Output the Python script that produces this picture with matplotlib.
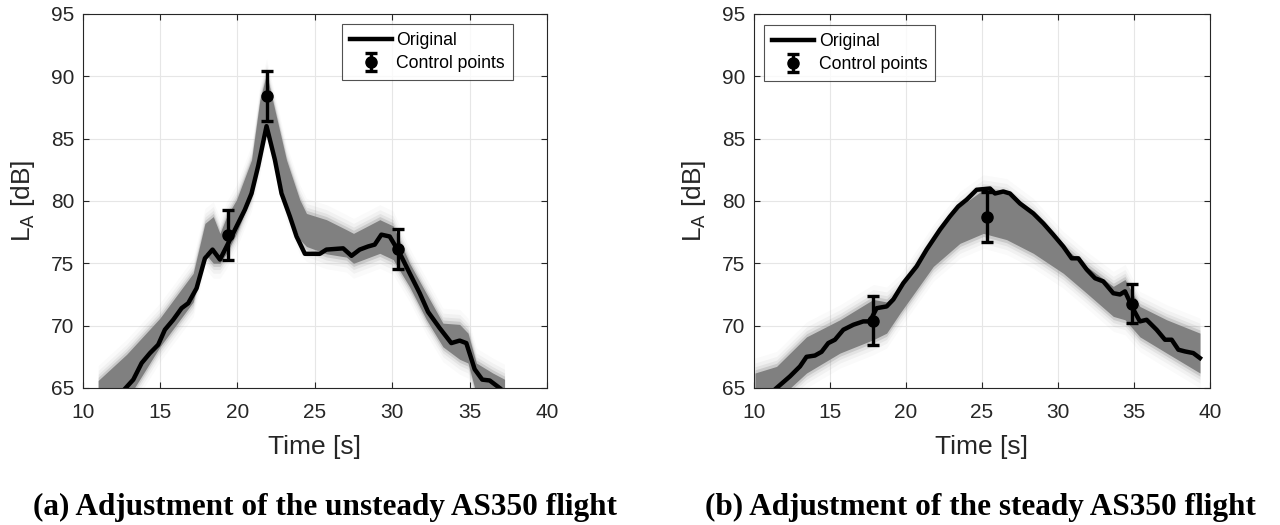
import numpy as np
import matplotlib.pyplot as plt

plt.rcParams['font.family'] = ['Liberation Sans', 'DejaVu Sans']

# (a) unsteady flight - original curve
t_a = [12.78, 13.27, 13.81, 14.35, 14.88, 15.31, 15.85, 16.39, 16.82, 17.36, 17.9, 18.39,
       18.87, 19.3, 19.94, 20.48, 20.91, 21.34, 21.88, 22.42, 22.85, 23.39, 23.82, 24.36,
       25.32, 25.75, 26.83, 27.37, 27.9, 28.44, 28.87, 29.3, 29.84, 30.49, 31.13, 31.78,
       32.32, 33.07, 33.82, 34.36, 34.79, 35.33, 35.82, 36.3, 36.94]
la_a = [65.0, 65.67, 67.0, 67.8, 68.47, 69.67, 70.47, 71.4, 71.8, 73.0, 75.4, 76.1,
        75.3, 76.35, 77.95, 79.3, 80.6, 82.8, 86.0, 83.3, 80.6, 78.75, 77.15, 75.76,
        75.76, 76.1, 76.2, 75.6, 76.1, 76.35, 76.5, 77.3, 77.15, 75.8, 74.2, 72.6,
        71.1, 69.8, 68.6, 68.8, 68.6, 66.5, 65.67, 65.6, 65.0]

# (a) envelope of adjusted curves
band_t_a = [11.0, 12.84, 14.99, 17.14, 17.9, 18.44, 18.87, 19.3, 19.94, 20.91, 21.45, 21.88,
            22.42, 23.17, 24.03, 24.46, 25.75, 27.04, 27.5, 29.2, 30.06, 31.13, 32.2, 33.28,
            34.36, 34.9, 35.44, 36.5, 37.26]
band_hi_a = [65.6, 67.7, 70.6, 74.2, 78.2, 78.75, 77.4, 78.75, 80.1, 83.3, 88.1, 90.2,
             87.3, 83.3, 80.1, 79.0, 78.5, 77.7, 77.4, 78.5, 78.0, 75.0, 72.6, 70.2,
             70.1, 69.4, 67.0, 66.2, 65.7]
band_lo_a = [64.0, 64.0, 68.3, 71.9, 75.8, 75.0, 75.0, 75.8, 77.4, 80.4, 83.3, 86.0,
             83.3, 79.56, 76.9, 76.35, 75.76, 75.5, 75.0, 75.8, 75.3, 73.1, 70.5, 68.3,
             67.3, 67.0, 64.5, 64.0, 64.0]

cp_t_a = [19.36, 21.88, 30.38]
cp_la_a = [77.3, 88.4, 76.14]
cp_err_a = [2.0, 2.0, 1.6]

# (b) steady flight - original curve
t_b = [11.49, 12.37, 13.03, 13.46, 14.01, 14.45, 14.89, 15.33, 15.88, 16.54, 17.19, 17.63,
       18.07, 18.73, 19.17, 19.82, 20.7, 21.36, 22.24, 22.89, 23.44, 23.99, 24.65, 25.53,
       25.86, 26.4, 26.84, 27.5, 28.38, 29.04, 29.69, 30.35, 30.9, 31.34, 31.89, 32.44,
       32.98, 33.64, 34.08, 34.41, 34.96, 35.39, 35.83, 36.49, 37.04, 37.48, 37.92, 38.36,
       38.9, 39.34]
la_b = [65.0, 65.93, 66.73, 67.5, 67.6, 67.9, 68.6, 68.87, 69.67, 70.07, 70.34, 70.34,
        71.4, 71.54, 72.1, 73.4, 74.75, 76.1, 77.7, 78.75, 79.56, 80.1, 80.9, 81.0,
        80.6, 80.76, 80.6, 79.8, 79.0, 78.2, 77.3, 76.35, 75.4, 75.4, 74.5, 73.8,
        73.55, 72.6, 72.5, 72.75, 71.3, 70.34, 70.47, 69.67, 68.87, 68.87, 68.07, 67.93,
        67.8, 67.4]

band_t_b = [10.07, 11.49, 13.46, 15.66, 17.85, 18.73, 19.61, 21.8, 23.55, 25.09, 26.62,
            28.38, 30.35, 31.89, 33.64, 34.41, 35.39, 37.15, 39.34]
band_hi_b = [66.2, 66.73, 69.1, 70.47, 72.1, 71.9, 72.9, 76.9, 79.56, 80.9, 80.6,
             79.0, 76.35, 74.75, 73.15, 73.7, 71.54, 70.47, 69.4]
band_lo_b = [64.0, 64.0, 66.2, 67.8, 68.87, 69.4, 71.0, 74.75, 76.6, 77.4, 76.9,
             75.8, 74.2, 72.6, 70.74, 70.47, 69.1, 67.8, 66.2]

cp_t_b = [17.83, 25.35, 34.85]
cp_la_b = [70.4, 78.7, 71.76]
cp_err_b = [1.95, 2.0, 1.55]

captions = ['(a) Adjustment of the unsteady AS350 flight',
            '(b) Adjustment of the steady AS350 flight']

fig = plt.figure(figsize=(12.8, 5.25), dpi=100)
ax_a = fig.add_axes([0.0646, 0.261, 0.3627, 0.7124])
ax_b = fig.add_axes([0.589, 0.261, 0.3563, 0.7124])

panels = [
    (ax_a, t_a, la_a, band_t_a, band_hi_a, band_lo_a, cp_t_a, cp_la_a, cp_err_a,
     'upper right', (0.927, 0.973)),
    (ax_b, t_b, la_b, band_t_b, band_hi_b, band_lo_b, cp_t_b, cp_la_b, cp_err_b,
     'upper left', (0.022, 0.971)),
]

for ax, t, la, bt, bhi, blo, ct, cl, ce, loc, anchor in panels:
    bt = np.array(bt)
    bhi = np.array(bhi)
    blo = np.array(blo)
    # faint fringe of the simulated curves
    for pad, a in [(1.2, 0.04), (0.8, 0.07), (0.5, 0.12), (0.25, 0.25)]:
        ax.fill_between(bt, blo - pad, bhi + pad, color='0.5', alpha=a, lw=0)
    ax.fill_between(bt, blo, bhi, color='0.5', lw=0)
    ax.plot(t, la, color='black', lw=3.2, label='Original', solid_joinstyle='round')
    ax.errorbar(ct, cl, yerr=ce, fmt='o', color='black', ms=8, elinewidth=2.4,
                capsize=4, capthick=2.4, label='Control points')

    ax.set_xlim(10, 40)
    ax.set_ylim(65, 95)
    ax.set_xticks(range(10, 41, 5))
    ax.set_yticks(range(65, 96, 5))
    ax.grid(True, color='0.9', lw=0.8)
    ax.set_axisbelow(True)
    ax.tick_params(direction='in', top=True, right=True, labelsize=15,
                   colors='#262626', length=4)
    ax.tick_params(axis='x', pad=11)
    ax.tick_params(axis='y', pad=6)
    for s in ax.spines.values():
        s.set_color('#262626')
        s.set_linewidth(0.8)
    ax.set_xlabel('Time [s]', fontsize=19, color='#262626', labelpad=9)
    ax.set_ylabel(r'L$_\mathregular{A}$ [dB]', fontsize=19, color='#262626', labelpad=10)
    leg = ax.legend(loc=loc, bbox_to_anchor=anchor, fontsize=12.7, frameon=True,
                    fancybox=False, edgecolor='#262626', handlelength=2.4,
                    handletextpad=0.25, borderpad=0.45, labelspacing=0.36,
                    borderaxespad=0)
    leg.get_frame().set_linewidth(0.8)

fig.text(0.254, 0.019, captions[0], ha='center', va='baseline', fontsize=22.5,
         fontweight='bold', family='Liberation Serif')
fig.text(0.766, 0.019, captions[1], ha='center', va='baseline', fontsize=22.5,
         fontweight='bold', family='Liberation Serif')

fig.savefig('out.png', dpi=100)
